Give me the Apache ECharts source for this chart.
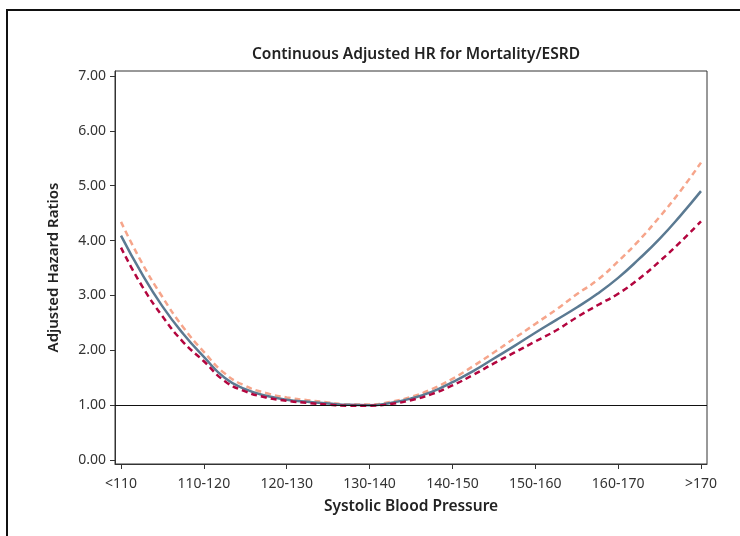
<!DOCTYPE html>
<html>
<head>
<meta charset="utf-8">
<script src="https://cdn.jsdelivr.net/npm/echarts@6/dist/echarts.min.js"></script>
<style>
html,body{margin:0;padding:0;background:#fff;}
#chart{width:740px;height:536px;}
</style>
</head>
<body>
<div id="chart"></div>
<script>
// Category tick labels (positions 0..7 on the x axis)
var tickLabels = ['<110', '110-120', '120-130', '130-140', '140-150', '150-160', '160-170', '>170'];
var tickPositions = [0, 1, 2, 3, 4, 5, 6, 7];
var yTicks = [0, 1, 2, 3, 4, 5, 6, 7];

// Sample positions along the blood-pressure axis (in category units)
var bpPositions = [0, 0.25, 0.5, 0.75, 1, 1.25, 1.5, 1.75, 2, 2.25, 2.5, 2.75, 3, 3.25, 3.5, 3.75, 4, 4.25, 4.5, 4.75, 5, 5.25, 5.5, 5.75, 6, 6.25, 6.5, 6.75, 7];

// Estimate (solid line)
var hrEstimate = [4.09, 3.40, 2.80, 2.30, 1.88, 1.50, 1.29, 1.17, 1.10, 1.06, 1.03, 1.005, 1.00, 1.04, 1.12, 1.24, 1.42, 1.62, 1.85, 2.08, 2.32, 2.55, 2.78, 3.03, 3.32, 3.66, 4.03, 4.45, 4.90];
// Upper bound (light dashed)
var hrUpper = [4.34, 3.60, 2.97, 2.42, 1.97, 1.58, 1.35, 1.22, 1.14, 1.09, 1.05, 1.01, 1.01, 1.06, 1.15, 1.29, 1.48, 1.71, 1.96, 2.22, 2.48, 2.74, 3.02, 3.28, 3.62, 4.00, 4.43, 4.90, 5.42];
// Lower bound (dark dashed)
var hrLower = [3.87, 3.18, 2.62, 2.15, 1.80, 1.44, 1.25, 1.14, 1.08, 1.04, 1.01, 0.99, 0.99, 1.02, 1.09, 1.20, 1.36, 1.55, 1.76, 1.96, 2.16, 2.36, 2.60, 2.82, 3.03, 3.30, 3.62, 3.97, 4.35];

var refValue = 1;

function pairs(vals) {
  return bpPositions.map(function (x, i) { return [x, vals[i]]; });
}

var FONT = 'Noto Sans';
var chart = echarts.init(document.getElementById('chart'), null, {renderer: 'canvas'});
chart.setOption({
  animation: false,
  backgroundColor: '#fff',
  graphic: [{
    type: 'rect',
    shape: {x: 7, y: 10, width: 800, height: 600},
    style: {fill: 'none', stroke: '#111', lineWidth: 2},
    z: -10, silent: true
  }],
  title: {
    text: 'Continuous Adjusted HR for Mortality/ESRD',
    left: 411, top: 42, textAlign: 'center',
    textStyle: {fontFamily: FONT, fontSize: 15.5, fontWeight: 600, color: '#222'}
  },
  grid: {
    left: 115, right: 33, top: 71, bottom: 72,
    show: true, borderColor: '#333', borderWidth: 1, backgroundColor: 'transparent'
  },
  xAxis: {
    type: 'value', min: -0.0725, max: 7.0725,
    name: 'Systolic Blood Pressure', nameLocation: 'middle', nameGap: 35,
    nameTextStyle: {fontFamily: FONT, fontSize: 15.5, fontWeight: 600, color: '#222'},
    axisLine: {show: true, onZero: false, lineStyle: {color: '#333', width: 1}},
    axisTick: {show: true, customValues: tickPositions, length: 5, lineStyle: {color: '#333'}},
    axisLabel: {
      customValues: tickPositions, margin: 13,
      fontFamily: FONT, fontSize: 14, color: '#333',
      formatter: function (v) { return tickLabels[Math.round(v)]; }
    },
    splitLine: {show: false}
  },
  yAxis: {
    type: 'value', min: -0.073, max: 7.09,
    name: 'Adjusted Hazard Ratios', nameLocation: 'middle', nameGap: 54,
    nameTextStyle: {fontFamily: FONT, fontSize: 15, fontWeight: 600, color: '#222'},
    axisLine: {show: true, onZero: false, lineStyle: {color: '#333', width: 1}},
    axisTick: {show: true, customValues: yTicks, length: 5, lineStyle: {color: '#333'}},
    axisLabel: {
      customValues: yTicks, margin: 9,
      fontFamily: FONT, fontSize: 14, color: '#333',
      formatter: function (v) { return v.toFixed(2); }
    },
    splitLine: {show: false}
  },
  series: [
    {
      type: 'line', name: 'Upper', data: pairs(hrUpper), smooth: true, showSymbol: false,
      lineStyle: {color: '#f6a58b', width: 2.5, type: [6, 4]}, z: 2,
      markLine: {
        silent: true, symbol: 'none', label: {show: false}, animation: false,
        lineStyle: {color: '#111', width: 1, type: 'solid'},
        data: [{yAxis: refValue}]
      }
    },
    {
      type: 'line', name: 'Estimate', data: pairs(hrEstimate), smooth: true, showSymbol: false,
      lineStyle: {color: '#5b7a92', width: 2.5, type: 'solid'}, z: 3
    },
    {
      type: 'line', name: 'Lower', data: pairs(hrLower), smooth: true, showSymbol: false,
      lineStyle: {color: '#b3053e', width: 2.5, type: [6, 4]}, z: 4
    }
  ]
});
</script>
</body>
</html>
